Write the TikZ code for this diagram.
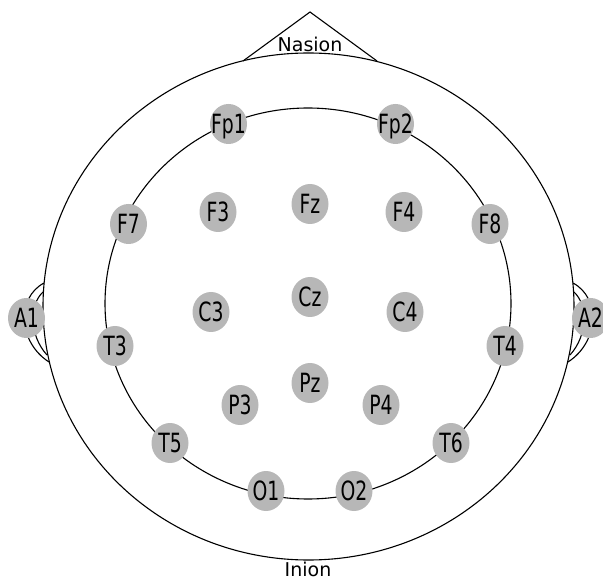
\documentclass[tikz,border=0pt]{standalone}
\usepackage{fontspec}
\setmainfont{DejaVu Sans}
\usetikzlibrary{shapes.geometric}
\definecolor{elec}{RGB}{183,183,183}
\tikzset{
  electrode/.style={ellipse, fill=elec, minimum width=37pt, minimum height=40pt, inner sep=0pt},
  elabel/.style={inner sep=0pt, text height=19.5pt, text depth=0pt, font=\fontsize{26.5}{26.5}\selectfont},
  headline/.style={line width=1.1pt, black},
  landmark/.style={inner sep=0pt, font=\fontsize{19}{19}\selectfont}
}
\newcommand{\electrode}[3]{%
  \node[electrode] (#1) at (#2,#3) {};
  \node[elabel] (#1t) at (#1.center) {\scalebox{0.71}[1]{#1}};
}
\begin{document}
\begin{tikzpicture}[x=1pt,y=-1pt]
\useasboundingbox (0,0) rectangle (603,580);
% head
\draw[headline] (308.5,306.5) ellipse [x radius=265.5, y radius=253.5];
\draw[headline] (308,303.5) ellipse [x radius=203, y radius=195.5];
% nose
\draw[headline] (243,61) -- (310,12) -- (377,61);
% ears
\draw[headline] (44,283) .. controls (16,298) and (18,342) .. (49,362);
\draw[headline] (43,292) .. controls (29,305) and (29,335) .. (47,355);
\draw[headline] (573,283) .. controls (601,298) and (599,342) .. (568,362);
\draw[headline] (574,292) .. controls (588,305) and (588,335) .. (570,355);
% landmarks
\node[landmark, anchor=base] (nasion) at (310,51.7) {Nasion};
\node[landmark, anchor=base] (inion) at (308,576) {Inion};
% electrodes
\electrode{Fp1}{228.5}{124}
\electrode{Fp2}{395.5}{124}
\electrode{F7}{128.5}{224}
\electrode{F8}{490}{224}
\electrode{F3}{218}{212}
\electrode{Fz}{310}{204}
\electrode{F4}{404}{212}
\electrode{A1}{26.5}{318}
\electrode{A2}{590.5}{318}
\electrode{C3}{211}{312}
\electrode{Cz}{310}{297}
\electrode{C4}{405}{312}
\electrode{T3}{115}{346}
\electrode{T4}{505}{346}
\electrode{P3}{240}{405}
\electrode{Pz}{310}{383}
\electrode{P4}{381}{405}
\electrode{T5}{170}{443}
\electrode{T6}{451}{443}
\electrode{O1}{266}{491}
\electrode{O2}{354}{491}
\end{tikzpicture}
\end{document}
